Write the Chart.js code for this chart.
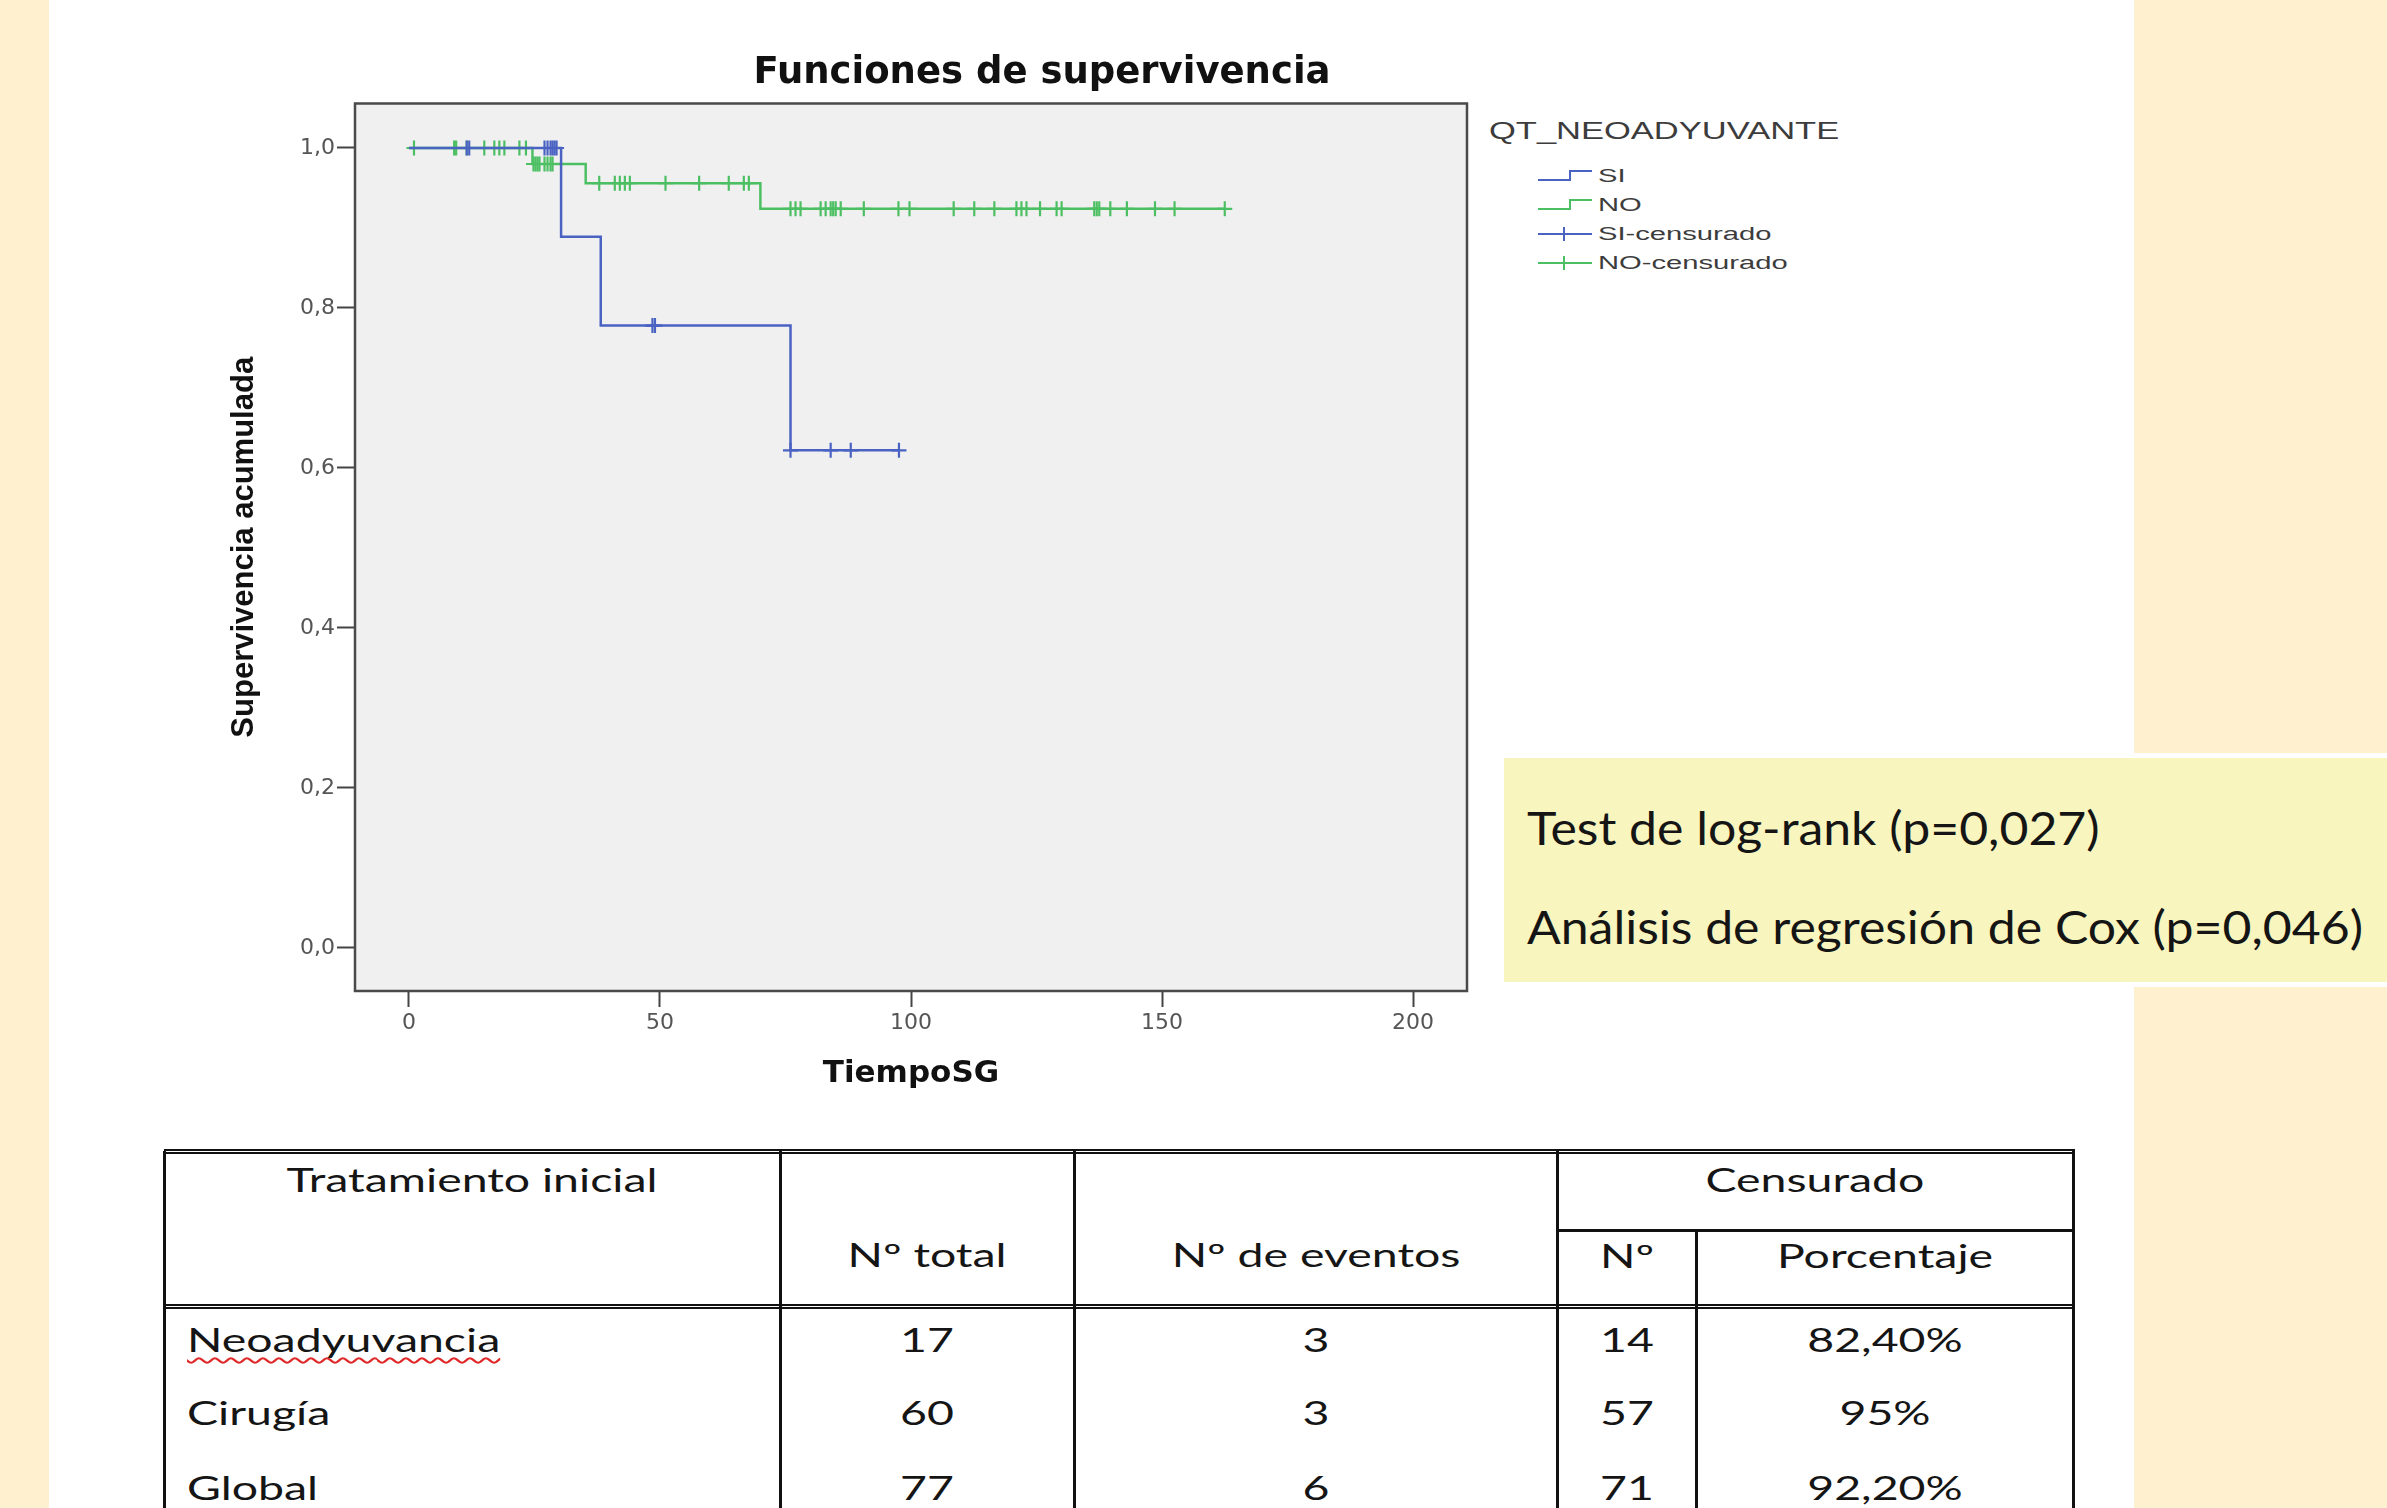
<!DOCTYPE html>
<html lang="es">
<head>
<meta charset="utf-8">
<title>Funciones de supervivencia</title>
<script src="https://cdn.jsdelivr.net/npm/chart.js@4.4.1/dist/chart.umd.min.js"></script>
<style>
  html, body { margin: 0; padding: 0; }
  body {
    width: 2387px; height: 1508px; position: relative; overflow: hidden;
    background: #fff; font-family: "DejaVu Sans", sans-serif;
  }
  .strip { position: absolute; top: 0; height: 1508px; background: #fff0cf; }
  #chartWrap { position: absolute; left: 150px; top: 30px; width: 1330px; height: 1080px; }
  #legend { position: absolute; left: 0; top: 0; color: #3c3c3c; font-family: "Liberation Sans", Arial, sans-serif; }
  .lg { position: absolute; white-space: nowrap; line-height: 1; transform-origin: left center; }
  .lg-icon { position: absolute; }
  #testBox {
    position: absolute; left: 1499px; top: 753px; width: 900px; height: 234px;
    box-sizing: border-box; background: #f9f5bf; border: 5px solid #fff;
  }
  .boxText, .tt {
    position: absolute; white-space: nowrap; line-height: 1; font-family: Lato, "Open Sans", sans-serif;
    color: #151515;
  }
  .boxText { font-size: 46px; transform-origin: left center; }
  .tt { font-size: 32px; }
  .line { position: absolute; background: #111; }
  .dbl { position: absolute; border-top: 2px solid #111; border-bottom: 2px solid #111; height: 1px; }
  .wavy { text-decoration: underline wavy #e02828; text-underline-offset: 5px; text-decoration-thickness: 2px; }
</style>
</head>
<body>
<div class="strip" style="left:0;width:49px"></div>
<div class="strip" style="left:2134px;width:253px"></div>

<div id="chartWrap"><canvas id="kmChart" width="1330" height="1080" style="width:1330px;height:1080px"></canvas></div>
<div id="legend"></div>
<div id="testBox"></div>
<div id="table"></div>

<script>
// ----- Chart data -----
const chartTitle = "Funciones de supervivencia";
const xTitle = "TiempoSG";
const yTitle = "Supervivencia acumulada";
const xTicks = [0, 50, 100, 150, 200];
const yTicks = [0, 0.2, 0.4, 0.6, 0.8, 1.0];

// SI (neoadyuvante): event times, survival after each event, censored times
const siEventTimes = [30.3, 38.2, 76.0];
const siSurvival = [0.889, 0.778, 0.622];
const siCensored = [11.5, 12.0, 27.0, 27.6, 28.2, 28.6, 29.0, 29.4, 48.5, 49.0, 76.0, 84.0, 88.0, 97.6];

// NO (cirugia)
const noEventTimes = [24.6, 35.2, 70.0];
const noSurvival = [0.98, 0.956, 0.924];
const noCensored = [1, 9, 9.4, 11.5, 15, 17, 18, 19, 22, 23.3,
  24.8, 25.2, 25.6, 26, 27, 27.6, 28.2, 28.6,
  37.9, 41, 42, 43, 44, 51.1, 57.8, 63.7, 66.7, 67.7,
  76, 77, 78, 82, 83, 84, 84.5, 85, 86, 90.6, 97.5, 99.7, 108.5, 112.6, 116.6,
  121, 122, 123, 125.7, 129, 130, 136.5, 137, 137.5, 139.7, 143, 148.6, 152.5, 162.5];

const legendTitle = "QT_NEOADYUVANTE";
const legendLabels = ["SI", "NO", "SI-censurado", "NO-censurado"];

const testLines = ["Test de log-rank (p=0,027)", "Análisis de regresión de Cox (p=0,046)"];

const tableGroups = ["Neoadyuvancia", "Cirugía", "Global"];
const tableTotal = [17, 60, 77];
const tableEvents = [3, 3, 6];
const tableCensored = [14, 57, 71];
const tablePercent = ["82,40%", "95%", "92,20%"];

const SI_COLOR = "#4a62c2";
const NO_COLOR = "#4dbf63";

// ----- Helpers -----
function stepCurve(times, surv, lastTime) {
  const pts = [{ x: 0, y: 1 }];
  times.forEach((t, i) => pts.push({ x: t, y: surv[i] }));
  pts.push({ x: lastTime, y: surv[surv.length - 1] });
  return pts;
}
function levelAt(t, times, surv) {
  let s = 1;
  times.forEach((e, i) => { if (e <= t) s = surv[i]; });
  return s;
}
function censorPoints(cens, times, surv) {
  return cens.map((t) => ({ x: t, y: levelAt(t, times, surv) }));
}
function comma(v) {
  return v.toFixed(1).replace(".", ",");
}

// ----- Plot frame + title -----
const plotFrame = {
  id: "plotFrame",
  beforeDraw(chart) {
    const { ctx, chartArea: a } = chart;
    ctx.save();
    ctx.fillStyle = "#f0f0f0";
    ctx.fillRect(a.left, a.top, a.right - a.left, a.bottom - a.top);
    ctx.restore();
  },
  afterDraw(chart) {
    const { ctx, chartArea: a } = chart;
    ctx.save();
    ctx.strokeStyle = "#4a4a4a";
    ctx.lineWidth = 2.5;
    ctx.strokeRect(a.left, a.top, a.right - a.left, a.bottom - a.top);
    ctx.font = "bold 37px 'DejaVu Sans'";
    ctx.fillStyle = "#111";
    ctx.textAlign = "center";
    ctx.textBaseline = "middle";
    ctx.fillText(chartTitle, 892, 43);
    ctx.restore();
  },
};

const axisGrid = { drawOnChartArea: false, drawTicks: true, tickColor: "#444", tickWidth: 2 };

new Chart(document.getElementById("kmChart").getContext("2d"), {
  type: "scatter",
  data: {
    datasets: [
      {
        label: "SI-censurado",
        data: censorPoints(siCensored, siEventTimes, siSurvival),
        pointStyle: "cross", pointRadius: 7.5, pointBorderWidth: 2.2,
        borderColor: SI_COLOR, backgroundColor: SI_COLOR, showLine: false, order: 0,
      },
      {
        label: "SI", type: "line",
        data: stepCurve(siEventTimes, siSurvival, siCensored[siCensored.length - 1]),
        stepped: "before", borderColor: SI_COLOR, borderWidth: 2.5, pointRadius: 0, fill: false, order: 1,
      },
      {
        label: "NO-censurado",
        data: censorPoints(noCensored, noEventTimes, noSurvival),
        pointStyle: "cross", pointRadius: 7.5, pointBorderWidth: 2.2,
        borderColor: NO_COLOR, backgroundColor: NO_COLOR, showLine: false, order: 2,
      },
      {
        label: "NO", type: "line",
        data: stepCurve(noEventTimes, noSurvival, noCensored[noCensored.length - 1]),
        stepped: "before", borderColor: NO_COLOR, borderWidth: 2.5, pointRadius: 0, fill: false, order: 3,
      },
    ],
  },
  options: {
    responsive: false,
    animation: false,
    devicePixelRatio: 1,
    layout: { padding: { top: 73.5, right: 13, left: 0, bottom: 0 } },
    plugins: { legend: { display: false }, tooltip: { enabled: false } },
    scales: {
      x: {
        type: "linear", min: -10.75, max: 210.75,
        afterBuildTicks: (s) => { s.ticks = xTicks.map((v) => ({ value: v })); },
        afterFit: (s) => { s.height = 119; },
        grid: { ...axisGrid, tickLength: 16 },
        border: { display: false },
        ticks: { font: { family: "DejaVu Sans", size: 22 }, color: "#555", padding: 3, maxRotation: 0 },
        title: {
          display: true, text: xTitle, color: "#111",
          font: { family: "DejaVu Sans", weight: "bold", size: 31 },
          padding: { top: 0, bottom: 17 },
        },
      },
      y: {
        type: "linear", min: -0.0538, max: 1.0556,
        afterBuildTicks: (s) => { s.ticks = yTicks.map((v) => ({ value: v })); },
        afterFit: (s) => { s.width = 205; },
        grid: { ...axisGrid, tickLength: 18 },
        border: { display: false },
        ticks: { font: { family: "DejaVu Sans", size: 22 }, color: "#555", padding: 2, callback: (v) => comma(v) },
        title: {
          display: true, text: yTitle, color: "#111",
          font: { family: "Liberation Sans", weight: "bold", size: 31 },
          padding: { top: 76, bottom: 0 },
        },
      },
    },
  },
  plugins: [plotFrame],
});

// ----- Legend -----
function buildLegend() {
  const lg = document.getElementById("legend");
  const title = document.createElement("div");
  title.className = "lg";
  title.textContent = legendTitle;
  title.style.cssText = "left:1489px;top:131px;font-size:23px;transform:translateY(-50%) scaleX(1.5)";
  lg.appendChild(title);
  const colors = [SI_COLOR, NO_COLOR, SI_COLOR, NO_COLOR];
  legendLabels.forEach((label, i) => {
    const cy = 175.5 + i * 29.3;
    const svgNS = "http://www.w3.org/2000/svg";
    const svg = document.createElementNS(svgNS, "svg");
    svg.setAttribute("width", "54");
    svg.setAttribute("height", "16");
    svg.setAttribute("class", "lg-icon");
    svg.style.left = "1538px";
    svg.style.top = cy - 8 + "px";
    const path = document.createElementNS(svgNS, "path");
    path.setAttribute("d", i < 2 ? "M0 12 H32 V3 H54" : "M0 8 H54 M26 1 V15");
    path.setAttribute("stroke", colors[i]);
    path.setAttribute("stroke-width", "2");
    path.setAttribute("fill", "none");
    svg.appendChild(path);
    lg.appendChild(svg);
    const t = document.createElement("div");
    t.className = "lg";
    t.textContent = label;
    t.style.cssText = `left:1598px;top:${cy}px;font-size:18px;transform:translateY(-50%) scaleX(1.62)`;
    lg.appendChild(t);
  });
}

// ----- Test box -----
function buildTestBox() {
  const box = document.getElementById("testBox");
  const ys = [70, 169];
  const els = testLines.map((txt, i) => {
    const d = document.createElement("div");
    d.className = "boxText";
    d.textContent = txt;
    d.style.left = "23px";
    d.style.top = ys[i] + "px";
    box.appendChild(d);
    return d;
  });
  const f = 836 / els[1].getBoundingClientRect().width;
  els.forEach((d) => { d.style.transform = `translateY(-50%) scaleX(${f})`; });
}

// ----- Table -----
function buildTable() {
  const tb = document.getElementById("table");
  const cols = [164, 780, 1074, 1557, 1696, 2073];
  const top = 1151, mid = 1230, head = 1306, bottom = 1508;
  const add = (cls, css) => {
    const d = document.createElement("div");
    d.className = cls;
    d.style.cssText = css;
    tb.appendChild(d);
    return d;
  };
  add("dbl", `left:${cols[0]}px;top:${top - 2}px;width:${cols[5] - cols[0] + 2}px`);
  add("dbl", `left:${cols[0]}px;top:${head - 2}px;width:${cols[5] - cols[0] + 2}px`);
  add("line", `left:${cols[3]}px;top:${mid - 1}px;width:${cols[5] - cols[3]}px;height:3px`);
  [0, 1, 2, 3, 5].forEach((c) => add("line", `left:${cols[c] - 1}px;top:${top}px;width:3px;height:${bottom - top}px`));
  add("line", `left:${cols[4] - 1}px;top:${mid}px;width:3px;height:${bottom - mid}px`);

  const texts = [];
  const center = (txt, cx, cy, extra) => {
    const d = add("tt" + (extra ? " " + extra : ""), `left:${cx}px;top:${cy}px`);
    d.textContent = txt;
    d.dataset.align = "c";
    texts.push(d);
  };
  const leftT = (txt, x, cy, extra) => {
    const d = add("tt" + (extra ? " " + extra : ""), `left:${x}px;top:${cy}px;transform-origin:left center`);
    d.textContent = txt;
    d.dataset.align = "l";
    texts.push(d);
  };
  const mids = cols.slice(0, 5).map((c, i) => (c + cols[i + 1]) / 2);
  center("Tratamiento inicial", mids[0], 1180);
  center("Censurado", (cols[3] + cols[5]) / 2, 1180);
  center("Nº total", mids[1], 1255);
  center("Nº de eventos", mids[2], 1255);
  center("Nº", mids[3], 1256);
  center("Porcentaje", mids[4], 1256);
  const rowY = [1340, 1413, 1488];
  tableGroups.forEach((g, i) => {
    leftT(g, 187, rowY[i], i === 0 ? "wavy" : "");
    center(String(tableTotal[i]), mids[1], rowY[i]);
    center(String(tableEvents[i]), mids[2], rowY[i]);
    center(String(tableCensored[i]), mids[3], rowY[i]);
    center(tablePercent[i], mids[4], rowY[i]);
  });
  const f = 371 / texts[0].getBoundingClientRect().width;
  texts.forEach((d) => {
    d.style.transform = d.dataset.align === "c"
      ? `translate(-50%,-50%) scaleX(${f})`
      : `translateY(-50%) scaleX(${f})`;
  });
}

document.addEventListener("DOMContentLoaded", () => {
  buildLegend();
  buildTestBox();
  buildTable();
});
</script>
</body>
</html>
